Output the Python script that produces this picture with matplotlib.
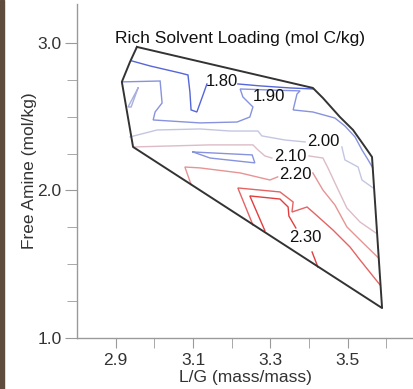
import matplotlib
matplotlib.use("Agg")
from matplotlib import pyplot as plt
from matplotlib.patches import Rectangle

plt.rcParams['font.family'] = ['Liberation Sans', 'DejaVu Sans']

# boundary of the sampled region (L/G, free amine)
hull_x = [2.955, 2.937, 2.916, 2.945, 3.589, 3.563, 3.545, 3.514, 3.480, 3.436, 3.410, 2.955]
hull_y = [2.973, 2.871, 2.736, 2.295, 1.203, 2.227, 2.295, 2.410, 2.498, 2.627, 2.695, 2.973]

# contour lines: (level, x values, y values)
c180a_x = [2.942, 2.989, 3.066, 3.087, 3.092, 3.095, 3.110, 3.126, 3.136]
c180a_y = [2.878, 2.844, 2.797, 2.783, 2.668, 2.546, 2.532, 2.648, 2.722]
c180b_x = [3.216, 3.273, 3.351, 3.410]
c180b_y = [2.722, 2.709, 2.695, 2.688]

c190_x = [2.916, 3.015, 3.020, 3.002, 2.997, 3.118, 3.214, 3.247, 3.255, 3.229, 3.222,
          3.299, 3.377, 3.369, 3.359, 3.410, 3.467, 3.493, 3.519, 3.537, 3.553, 3.565]
c190_y = [2.736, 2.742, 2.593, 2.532, 2.478, 2.458, 2.464, 2.498, 2.566, 2.634, 2.688,
          2.681, 2.675, 2.654, 2.546, 2.532, 2.491, 2.437, 2.363, 2.275, 2.207, 2.153]

wedge_x = [3.100, 3.253, 3.260, 3.144, 3.100]
wedge_y = [2.261, 2.241, 2.187, 2.220, 2.261]

spike_x = [2.958, 2.932, 2.940, 2.958]
spike_y = [2.695, 2.566, 2.566, 2.695]

c200a_x = [2.937, 3.007, 3.118, 3.196, 3.268, 3.278, 3.338, 3.390]
c200a_y = [2.363, 2.410, 2.417, 2.403, 2.403, 2.370, 2.342, 2.329]
c200b_x = [3.485, 3.493, 3.527, 3.537, 3.566]
c200b_y = [2.295, 2.207, 2.159, 2.071, 2.017]

c210a_x = [2.947, 3.144, 3.255, 3.268, 3.286, 3.304]
c210a_y = [2.295, 2.309, 2.309, 2.275, 2.234, 2.220]
c210b_x = [3.400, 3.436, 3.449, 3.472, 3.498, 3.532, 3.573]
c210b_y = [2.234, 2.220, 2.153, 2.024, 1.881, 1.786, 1.712]

c220a_x = [3.095, 3.079, 3.118, 3.222, 3.299, 3.319]
c220a_y = [2.041, 2.159, 2.153, 2.119, 2.071, 2.092]
c220b_x = [3.410, 3.436, 3.467, 3.498, 3.540, 3.580]
c220b_y = [2.119, 2.003, 1.902, 1.753, 1.644, 1.542]

c225_x = [3.255, 3.216, 3.325, 3.359, 3.356, 3.395, 3.410, 3.462, 3.506, 3.532, 3.584]
c225_y = [1.766, 2.017, 1.990, 1.922, 1.854, 1.888, 1.854, 1.732, 1.617, 1.529, 1.359]

c230a_x = [3.286, 3.247, 3.325, 3.346, 3.348, 3.366]
c230a_y = [1.727, 1.963, 1.942, 1.888, 1.827, 1.746]
c230b_x = [3.408, 3.423]
c230b_y = [1.583, 1.481]

level_labels = ["1.80", "1.90", "2.00", "2.10", "2.20", "2.30"]
label_x = [3.175, 3.296, 3.436, 3.351, 3.366, 3.390]
label_y = [2.742, 2.634, 2.329, 2.227, 2.105, 1.678]

col = {
    1.80: '#5566d8',
    1.90: '#8793dd',
    1.95: '#a9b0de',
    2.00: '#c3c6e2',
    2.10: '#dcbcc6',
    2.20: '#e69494',
    2.25: '#e46464',
    2.30: '#e23e3e',
}

lines = [
    (1.80, c180a_x, c180a_y), (1.80, c180b_x, c180b_y),
    (1.90, c190_x, c190_y), (1.90, wedge_x, wedge_y),
    (1.95, spike_x, spike_y),
    (2.00, c200a_x, c200a_y), (2.00, c200b_x, c200b_y),
    (2.10, c210a_x, c210a_y), (2.10, c210b_x, c210b_y),
    (2.20, c220a_x, c220a_y), (2.20, c220b_x, c220b_y),
    (2.25, c225_x, c225_y),
    (2.30, c230a_x, c230a_y), (2.30, c230b_x, c230b_y),
]

fig = plt.figure(figsize=(4.13, 3.89), dpi=100)
fig.patches.append(Rectangle((0, 0), 4 / 413, 1, transform=fig.transFigure,
                             color='#5e4c3c', zorder=0))
ax = fig.add_axes([77 / 413, 51 / 389, 336 / 413, 334 / 389])

for lev, xs, ys in lines:
    ax.plot(xs, ys, color=col[lev], lw=1.0, solid_joinstyle='miter')
ax.plot(hull_x, hull_y, color='#333333', lw=1.4, zorder=3)

for t, x, y in zip(level_labels, label_x, label_y):
    ax.text(x, y, t, fontsize=12, ha='center', va='center', color='#111111', zorder=4)

ax.text(0.485, 0.898, "Rich Solvent Loading (mol C/kg)", transform=ax.transAxes,
        ha='center', va='center', fontsize=12.5, color='#111111')

ax.set_xlim(2.8, 3.669)
ax.set_ylim(1.0, 3.264)
ax.set_xticks([2.9, 3.1, 3.3, 3.5])
ax.set_xticks([3.0, 3.2, 3.4, 3.6], minor=True)
ax.set_yticks([1.0, 2.0, 3.0])
ax.set_yticks([1.25, 1.5, 1.75, 2.25, 2.5, 2.75], minor=True)
ax.set_xticklabels(["2.9", "3.1", "3.3", "3.5"])
ax.set_yticklabels(["1.0", "2.0", "3.0"])
ax.tick_params(axis='both', which='both', colors='#9a9a9a', labelcolor='#333333',
               labelsize=12.5, direction='out')
ax.tick_params(axis='x', which='both', length=7, pad=4)
ax.tick_params(axis='y', which='major', length=9, pad=2)
ax.tick_params(axis='y', which='minor', length=7)

for s in ['top', 'right']:
    ax.spines[s].set_visible(False)
for s in ['left', 'bottom']:
    ax.spines[s].set_color('#9a9a9a')
    ax.spines[s].set_linewidth(1.0)

ax.set_xlabel("L/G (mass/mass)", fontsize=12.5, color='#333333', labelpad=1)
ax.set_ylabel("Free Amine (mol/kg)", fontsize=12.5, color='#333333', labelpad=0)

fig.savefig("out.png", dpi=100)
